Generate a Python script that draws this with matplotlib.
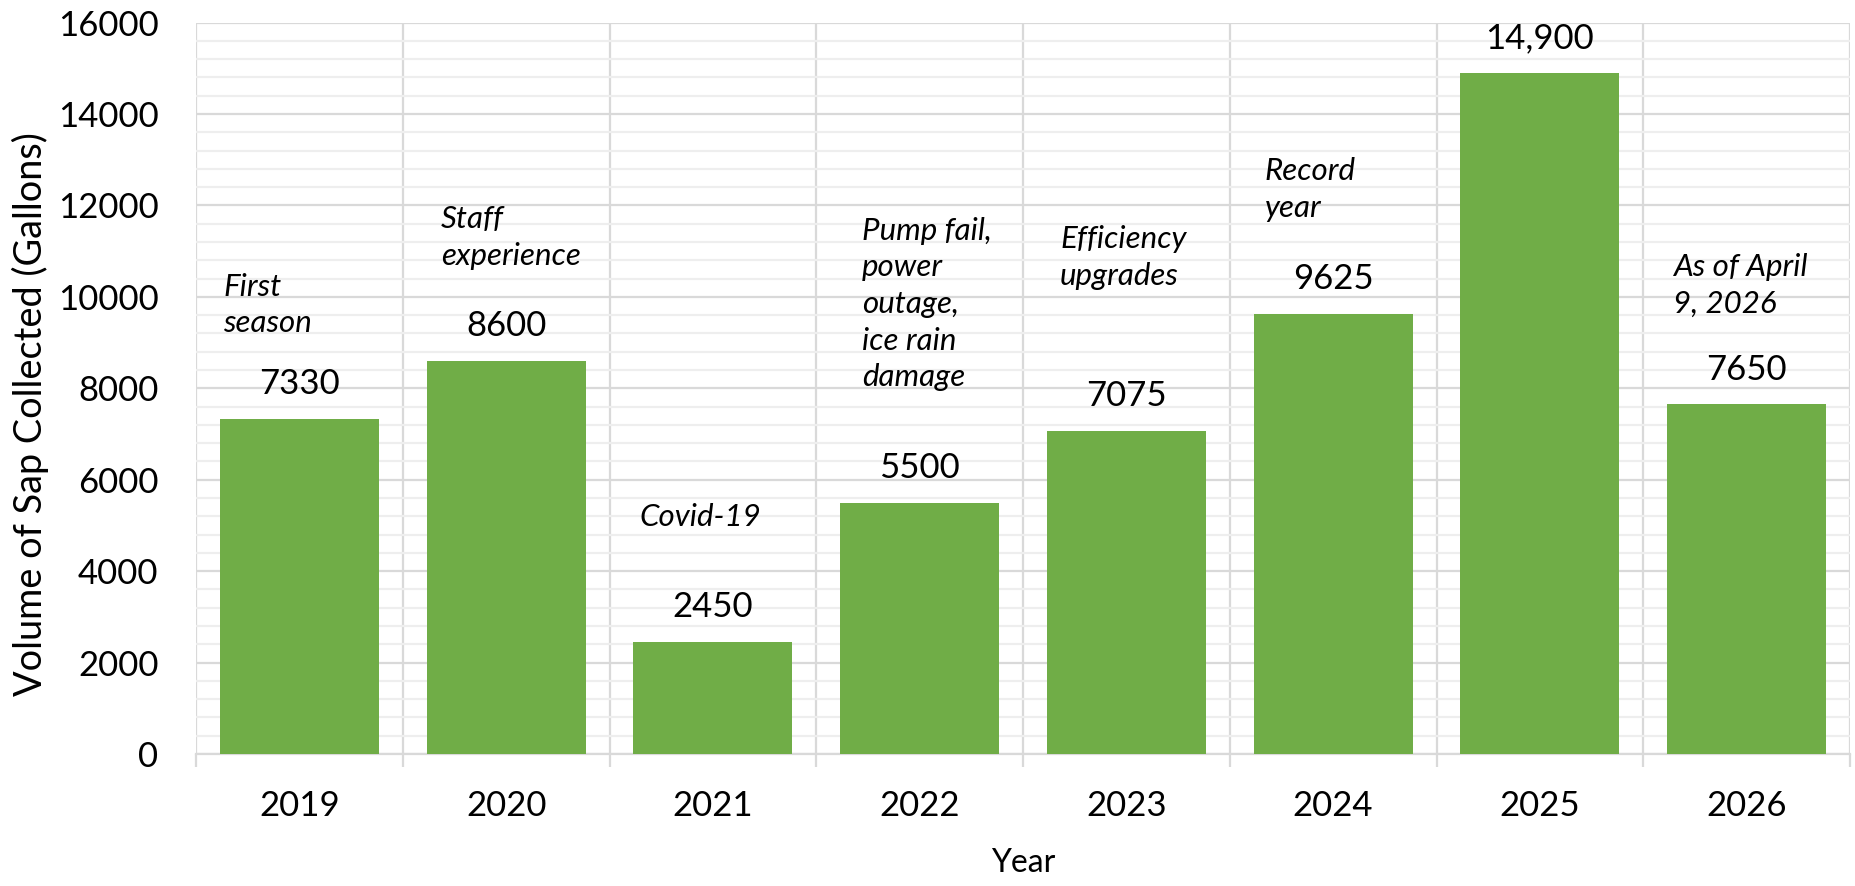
import matplotlib
matplotlib.use("Agg")
import matplotlib.pyplot as plt
from matplotlib.ticker import MultipleLocator, FixedLocator

# ---- data ----
years = ["2019", "2020", "2021", "2022", "2023", "2024", "2025", "2026"]
volumes = [7330, 8600, 2450, 5500, 7075, 9625, 14900, 7650]
value_labels = ["7330", "8600", "2450", "5500", "7075", "9625", "14,900", "7650"]
notes = ["First\nseason", "Staff\nexperience", "Covid-19",
         "Pump fail,\npower\noutage,\nice rain\ndamage",
         "Efficiency\nupgrades", "Record\nyear", "", "As of April\n9, 2026"]

# ---- layout / style (not data) ----
note_dx = [-0.369, -0.315, -0.357, -0.279, -0.321, -0.330, 0.0, -0.356]
note_y = [9821, 11297, 5184, 9843, 10860, 12347, 0, 10258]

plt.rcParams['font.family'] = ['Lato', 'DejaVu Sans']
W, H = 1855, 886
fig = plt.figure(figsize=(W / 100, H / 100), dpi=100)
left, right, top, bottom = 196, 1850, 22.5, 754
ax = fig.add_axes([left / W, (H - bottom) / H, (right - left) / W, (bottom - top) / H])

x = list(range(len(years)))
bars = ax.bar(x, volumes, width=0.77, color='#70AD47', zorder=3)

ax.set_xlim(-0.5, len(years) - 0.5)
ax.set_ylim(0, 16000)

ax.yaxis.set_major_locator(MultipleLocator(2000))
ax.yaxis.set_minor_locator(MultipleLocator(400))
ax.set_xticks(x)
ax.set_xticklabels(years)
ax.xaxis.set_minor_locator(FixedLocator([i - 0.5 for i in range(len(years) + 1)]))

gcol = '#d9d9d9'
ax.grid(which='major', axis='y', color=gcol, lw=1.6, zorder=0)
ax.grid(which='minor', axis='y', color='#eeeeee', lw=1.6, zorder=0)
ax.grid(which='minor', axis='x', color=gcol, lw=1.6, zorder=0)
ax.set_axisbelow(True)

for s in ['top', 'right', 'left']:
    ax.spines[s].set_visible(False)
ax.spines['bottom'].set_color(gcol)
ax.spines['bottom'].set_linewidth(1.6)

ax.tick_params(axis='x', which='major', length=0, pad=26, labelsize=25, labelcolor='black')
ax.tick_params(axis='x', which='minor', length=9, width=1.6, color=gcol, direction='out')
ax.tick_params(axis='y', which='both', length=0, pad=27, labelsize=25, labelcolor='black')

ylab = ax.set_ylabel("Volume of Sap Collected (Gallons)", fontsize=26, va='center')
ax.yaxis.set_label_coords((30 - left) / (right - left), (bottom - 414) / (bottom - top))
ax.set_xlabel("Year", fontsize=23, va='center')
ax.xaxis.set_label_coords(0.5, (bottom - 863) / (bottom - top))

# fit y label length to the reference (about 563 px)
fig.canvas.draw()
ext = ylab.get_window_extent()
ylab.set_fontsize(26 * 563 / ext.height)

for i, (v, lab) in enumerate(zip(volumes, value_labels)):
    ax.annotate(lab, xy=(i, v), xytext=(0, 25), textcoords='offset points',
                ha='center', va='center', fontsize=25, color='black', zorder=5)

for i, (n, dx, ny) in enumerate(zip(notes, note_dx, note_y)):
    if n:
        ax.text(i + dx, ny, n, ha='left', va='center', fontsize=22.5, style='italic',
                linespacing=1.38, color='black', zorder=5)

fig.savefig("out.png", dpi=100, facecolor='white')
